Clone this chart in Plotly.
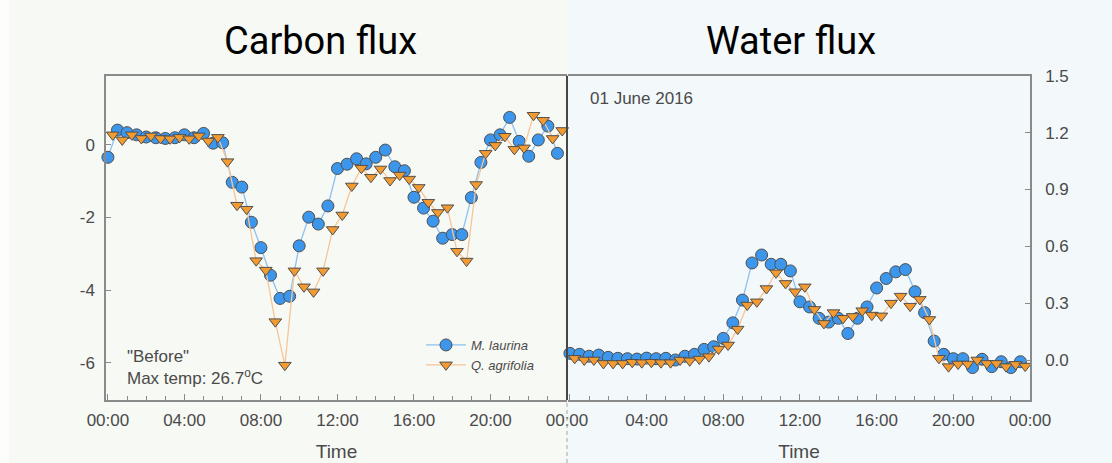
import plotly.graph_objects as go

# Half-hourly measurements for 01 June 2016
laurina_hours = [i * 0.5 for i in range(48)]          # M. laurina logged on the hour / half hour
agrifolia_hours = [i * 0.5 + 0.25 for i in range(48)]  # Q. agrifolia logged at :15 / :45

carbon_laurina = [
    -0.34, 0.41, 0.34, 0.28, 0.22, 0.20, 0.18, 0.20, 0.28, 0.20, 0.32, 0.05,
    0.06, -1.03, -1.16, -2.13, -2.83, -3.59, -4.23, -4.17, -2.78, -1.99, -2.18, -1.68,
    -0.65, -0.53, -0.38, -0.52, -0.34, -0.14, -0.60, -0.71, -1.44, -1.74, -2.10, -2.57,
    -2.47, -2.47, -1.45, -0.48, 0.14, 0.28, 0.76, 0.10, -0.31, 0.14, 0.52, -0.23,
]
carbon_agrifolia = [
    0.28, 0.14, 0.28, 0.18, 0.25, 0.18, 0.17, 0.21, 0.17, 0.25, 0.11, 0.21,
    -0.46, -1.66, -1.77, -3.19, -3.45, -4.87, -6.07, -3.47, -3.91, -4.05, -3.47, -2.33,
    -1.93, -1.13, -0.64, -0.89, -0.66, -0.98, -0.83, -0.94, -1.17, -1.58, -1.86, -1.73,
    -2.93, -3.20, -1.09, -0.23, -0.01, 0.24, -0.12, -0.08, 0.82, 0.68, 0.18, 0.40,
]
water_laurina = [
    0.035, 0.030, 0.020, 0.026, 0.014, 0.009, 0.007, 0.005, 0.010, 0.007, 0.009, 0.000,
    0.020, 0.030, 0.056, 0.070, 0.114, 0.196, 0.316, 0.512, 0.554, 0.505, 0.505, 0.470,
    0.307, 0.280, 0.220, 0.200, 0.220, 0.140, 0.220, 0.280, 0.380, 0.430, 0.465, 0.477,
    0.360, 0.250, 0.100, 0.030, 0.007, 0.007, -0.040, 0.004, -0.035, -0.009, -0.040, -0.009,
]
water_agrifolia = [
    0.009, 0.000, 0.000, -0.018, -0.018, -0.018, -0.012, -0.014, -0.012, -0.014, -0.014, 0.000,
    -0.004, 0.005, 0.018, 0.058, 0.079, 0.163, 0.290, 0.307, 0.377, 0.460, 0.404, 0.360,
    0.386, 0.267, 0.193, 0.250, 0.220, 0.230, 0.260, 0.237, 0.233, 0.300, 0.337, 0.284,
    0.320, 0.214, 0.009, -0.035, -0.021, -0.021, 0.000, -0.018, -0.018, -0.035, -0.023, -0.032,
]

hour_ticks = [0, 4, 8, 12, 16, 20, 24]
hour_labels = ["00:00", "04:00", "08:00", "12:00", "16:00", "20:00", "00:00"]
# the shared midnight between the two panels is labelled only once
hour_labels_right = [""] + hour_labels[1:]
carbon_ticks = [0, -2, -4, -6]
carbon_labels = ["0", "-2", "-4", "-6"]
water_ticks = [0.0, 0.3, 0.6, 0.9, 1.2, 1.5]
water_labels = ["0.0", "0.3", "0.6", "0.9", "1.2", "1.5"]

W, H = 1112, 463
FONT = "Liberation Sans, Arial, sans-serif"
BLUE, BLUE_LINE = "#3b96ec", "#8dc0f2"
ORANGE, ORANGE_LINE = "#f39a30", "#f7c596"
EDGE = "#4f4f4f"
AXIS = "#8a8a8a"
TXT = "#4a4a4a"


def px(x):
    return x / W


def py(y):
    return 1 - y / H


fig = go.Figure()

series = [
    ("M. laurina", laurina_hours, carbon_laurina, "x", "y", "circle", 12, BLUE, BLUE_LINE, True),
    ("Q. agrifolia", agrifolia_hours, carbon_agrifolia, "x", "y", "triangle-down", 11, ORANGE, ORANGE_LINE, True),
    ("M. laurina", laurina_hours, water_laurina, "x2", "y2", "circle", 12, BLUE, BLUE_LINE, False),
    ("Q. agrifolia", agrifolia_hours, water_agrifolia, "x2", "y2", "triangle-down", 11, ORANGE, ORANGE_LINE, False),
]
for name, xs, ys, xa, ya, sym, size, fill, line, show in series:
    fig.add_trace(go.Scatter(
        x=xs, y=ys, xaxis=xa, yaxis=ya, name=name, showlegend=show,
        mode="lines+markers",
        line=dict(color=line, width=1.3),
        marker=dict(symbol=sym, size=size, color=fill, line=dict(color=EDGE, width=1)),
        cliponaxis=False,
    ))

x_dom_left = [px(106), px(567)]
x_dom_right = [px(568), px(1030)]
y_dom = [py(400), py(75.7)]

common_x = dict(
    range=[-0.1, 24.0], tickmode="array", tickvals=hour_ticks,
    ticks="inside", ticklen=6, tickcolor=AXIS, tickwidth=1,
    minor=dict(tickmode="linear", tick0=0, dtick=1, ticks="inside", ticklen=4, tickcolor=AXIS),
    showline=True, linecolor=AXIS, linewidth=1.5, mirror=True,
    showgrid=False, zeroline=False, automargin=False,
    tickfont=dict(family=FONT, size=17, color=TXT),
    ticklabelstandoff=4,
    title=dict(text="Time", font=dict(family=FONT, size=19, color=TXT), standoff=16),
)

fig.update_layout(
    width=W, height=H,
    margin=dict(l=0, r=0, t=0, b=0, autoexpand=False),
    paper_bgcolor="#f3f8fa",
    plot_bgcolor="rgba(0,0,0,0)",
    showlegend=True,
    legend=dict(
        x=px(421), y=py(330), xanchor="left", yanchor="top",
        bgcolor="rgba(0,0,0,0)", borderwidth=0,
        font=dict(family=FONT, size=13, color=TXT, style="italic"),
        itemwidth=40, tracegroupgap=0,
    ),
    xaxis=dict(domain=x_dom_left, anchor="y", ticktext=hour_labels, **common_x),
    xaxis2=dict(domain=x_dom_right, anchor="y2", ticktext=hour_labels_right, **common_x),
    yaxis=dict(
        domain=y_dom, anchor="x", range=[-7.03, 1.91],
        tickmode="array", tickvals=carbon_ticks, ticktext=carbon_labels,
        ticks="inside", ticklen=5, tickcolor=AXIS,
        showline=True, linecolor=AXIS, linewidth=1.5,
        showgrid=False, zeroline=False, automargin=False,
        tickfont=dict(family=FONT, size=17, color=TXT),
        ticklabelstandoff=6,
    ),
    yaxis2=dict(
        domain=y_dom, anchor="x2", side="right", range=[-0.211, 1.5],
        tickmode="array", tickvals=water_ticks, ticktext=water_labels,
        ticks="inside", ticklen=5, tickcolor=AXIS,
        showline=True, linecolor=AXIS, linewidth=1.5,
        showgrid=False, zeroline=False, automargin=False,
        tickfont=dict(family=FONT, size=17, color=TXT),
        ticklabelstandoff=10,
    ),
)

shapes = [
    # panel backgrounds
    dict(type="rect", xref="paper", yref="paper", x0=0, x1=px(567), y0=0, y1=1,
         fillcolor="#f7f9f4", line_width=0, layer="below"),
    dict(type="rect", xref="paper", yref="paper", x0=0, x1=px(9), y0=0, y1=1,
         fillcolor="#fdfdfc", line_width=0, layer="below"),
    # divider between the two panels
    dict(type="line", xref="paper", yref="paper", x0=px(567), x1=px(567), y0=py(400), y1=py(75.7),
         line=dict(color="#474747", width=2)),
    dict(type="line", xref="paper", yref="paper", x0=px(567), x1=px(567), y0=0, y1=py(400),
         line=dict(color="#a8a8a8", width=1, dash="4px,3px")),
]
fig.update_layout(shapes=shapes)

annotations = [
    dict(text="Carbon flux", x=px(320), y=py(41), font=dict(family="Roboto", size=38, color="#000")),
    dict(text="Water flux", x=px(791), y=py(41), font=dict(family="Roboto", size=38, color="#000")),
    dict(text="01 June 2016", x=px(588), y=py(98), xanchor="left",
         font=dict(family=FONT, size=17, color=TXT)),
    dict(text="\"Before\"", x=px(125), y=py(356), xanchor="left",
         font=dict(family=FONT, size=17, color=TXT)),
    dict(text="Max temp: 26.7<sup>o</sup>C", x=px(125), y=py(377), xanchor="left",
         font=dict(family=FONT, size=17, color=TXT)),
]
for a in annotations:
    a.setdefault("xanchor", "center")
    fig.add_annotation(xref="paper", yref="paper", yanchor="middle", showarrow=False, **a)

fig.write_html("out.html")
